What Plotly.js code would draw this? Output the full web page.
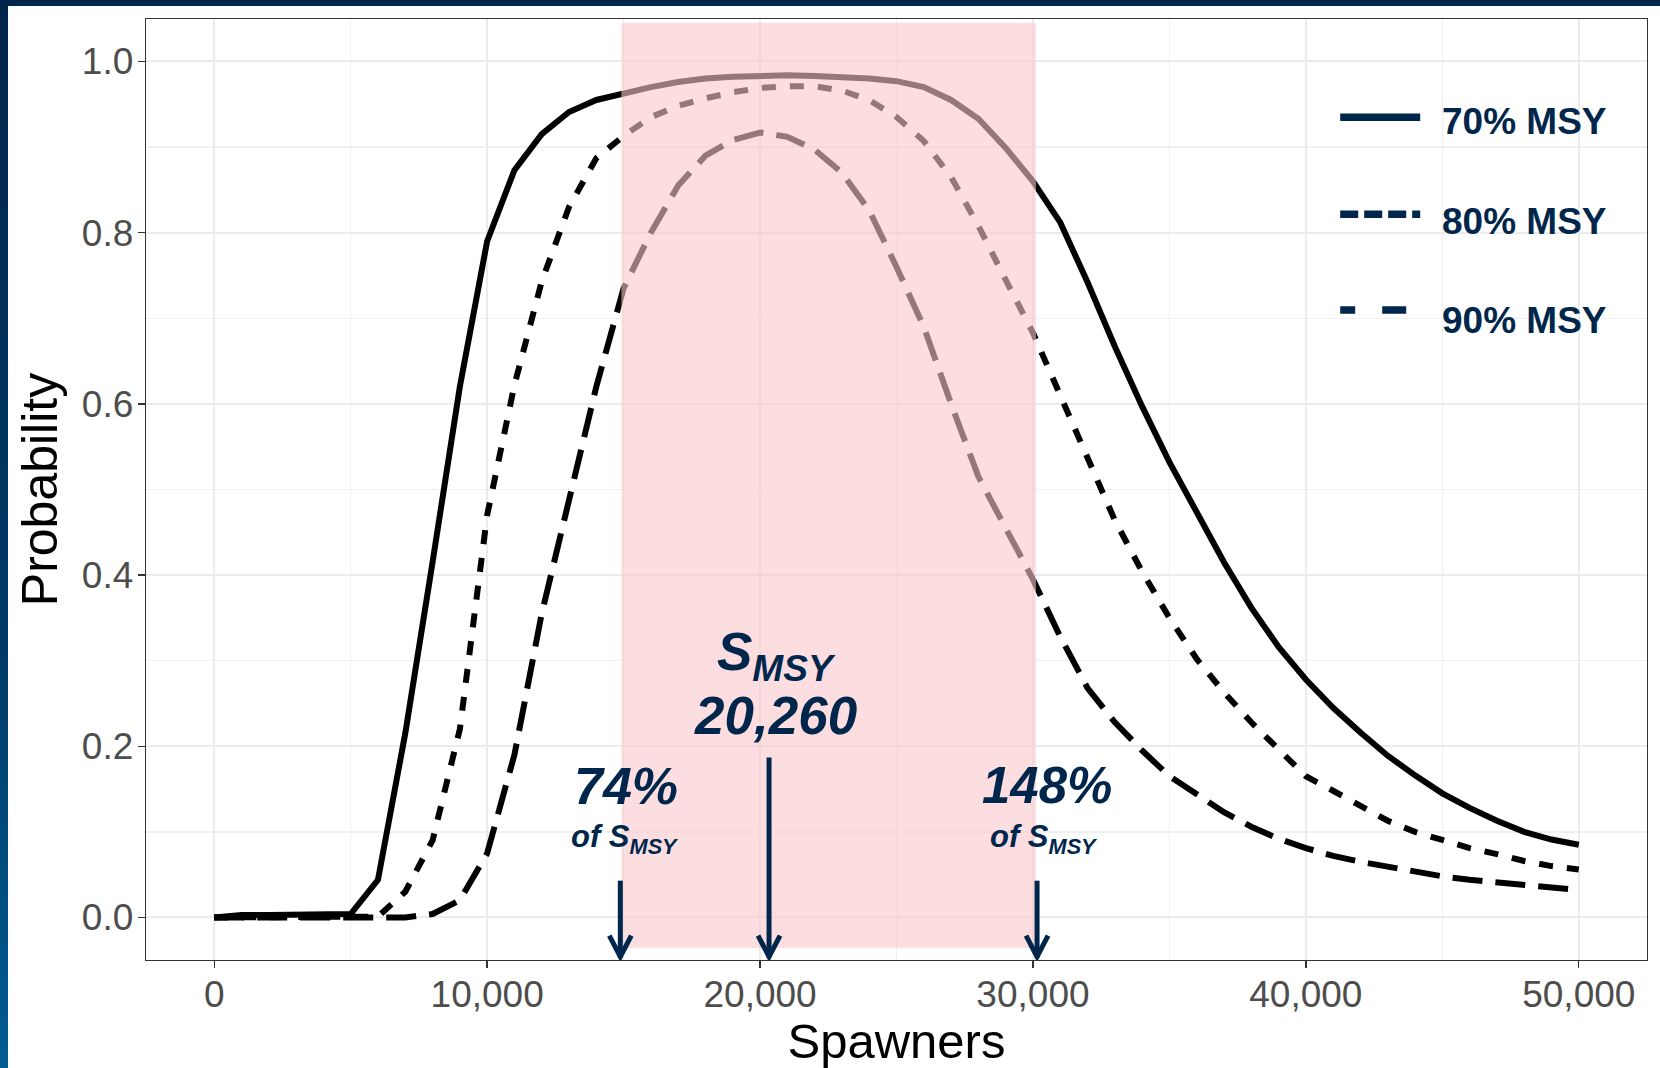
<!DOCTYPE html>
<html>
<head>
<meta charset="utf-8">
<script src="https://cdn.plot.ly/plotly-3.0.1.min.js"></script>
<style>
  html, body { margin: 0; padding: 0; background: #ffffff; }
  #chart { position: absolute; left: 0; top: 0; width: 1660px; height: 1068px; }
  #topbar { position: absolute; left: 0; top: 0; width: 1660px; height: 6px; background: #00264b; z-index: 5; }
  #leftbar { position: absolute; left: 0; top: 0; width: 8px; height: 1068px; z-index: 5;
             background: linear-gradient(to bottom, #00264b 0%, #003a66 60%, #005c92 100%); }
</style>
</head>
<body>
<div id="chart"></div>
<div id="topbar"></div>
<div id="leftbar"></div>
<script>
// ---- data ----
const spawners = [0,1000,2000,3000,4000,5000,6000,7000,8000,9000,
  10000,11000,12000,13000,14000,15000,16000,17000,18000,19000,
  20000,21000,22000,23000,24000,25000,26000,27000,28000,29000,
  30000,31000,32000,33000,34000,35000,36000,37000,38000,39000,
  40000,41000,42000,43000,44000,45000,46000,47000,48000,49000,50000];

const prob70 = [0.000,0.003,0.003,0.003,0.003,0.004,0.044,0.215,0.415,0.620,
  0.790,0.873,0.915,0.941,0.955,0.963,0.970,0.976,0.980,0.982,
  0.983,0.984,0.983,0.982,0.980,0.977,0.970,0.955,0.933,0.899,
  0.860,0.812,0.742,0.667,0.597,0.532,0.472,0.415,0.362,0.316,
  0.278,0.245,0.216,0.189,0.166,0.145,0.128,0.113,0.100,0.091,0.085];

const prob80 = [0.000,0.000,0.000,0.000,0.000,0.000,0.001,0.030,0.090,0.220,
  0.470,0.622,0.743,0.830,0.887,0.913,0.935,0.948,0.957,0.964,
  0.969,0.971,0.971,0.966,0.955,0.935,0.907,0.865,0.808,0.745,
  0.683,0.610,0.535,0.464,0.404,0.350,0.302,0.263,0.228,0.196,
  0.165,0.148,0.130,0.113,0.100,0.090,0.081,0.074,0.066,0.060,0.056];

const prob90 = [0.000,0.000,0.000,0.000,0.000,0.000,0.000,0.000,0.004,0.020,
  0.075,0.190,0.355,0.490,0.620,0.735,0.800,0.855,0.890,0.908,
  0.917,0.912,0.897,0.870,0.826,0.760,0.690,0.600,0.515,0.455,
  0.395,0.328,0.268,0.228,0.195,0.165,0.143,0.123,0.106,0.092,
  0.081,0.072,0.065,0.059,0.054,0.048,0.044,0.041,0.038,0.034,0.032];

const seriesNames = ["70% MSY", "80% MSY", "90% MSY"];

// S_MSY reference range (74% .. 148% of S_MSY) and arrow positions
const smsyLabel = "20,260";
const rangeLow = 14920;
const rangeHigh = 30110;
const arrowX = [14880, 20330, 30150];
const arrowTop = [0.043, 0.187, 0.043];
const arrowTip = -0.047;

const xTickVals = [0, 10000, 20000, 30000, 40000, 50000];
const xTickText = ["0", "10,000", "20,000", "30,000", "40,000", "50,000"];
const yTickVals = [0, 0.2, 0.4, 0.6, 0.8, 1.0];
const yTickText = ["0.0", "0.2", "0.4", "0.6", "0.8", "1.0"];

// ---- styling ----
const NAVY = "#00264b";
const FONT = "Liberation Sans, Arial, sans-serif";

const dashes = ["solid", "14px,14px", "30px,13px"];
const ys = [prob70, prob80, prob90];

const traces = ys.map((y, i) => ({
  type: "scatter", mode: "lines", x: spawners, y: y, name: seriesNames[i],
  showlegend: false, hoverinfo: "x+y",
  line: { color: "#000000", width: 6, dash: dashes[i] }
}));

const shapes = [];
// pink band (drawn above the lines, semi-transparent)
shapes.push({ type: "rect", xref: "x", yref: "y", x0: rangeLow, x1: rangeHigh, y0: -0.036, y1: 1.045,
  fillcolor: "rgb(250,200,205)", opacity: 0.6, line: { width: 0 }, layer: "above" });

// arrows
arrowX.forEach((ax, i) => {
  shapes.push({ type: "line", xref: "x", yref: "y", x0: ax, x1: ax, y0: arrowTop[i], y1: arrowTip,
    line: { color: NAVY, width: 5 }, layer: "above" });
  shapes.push({ type: "path", xref: "x", yref: "y", xsizemode: "pixel", ysizemode: "pixel",
    xanchor: ax, yanchor: arrowTip, path: "M-11,22 L0,1 L11,22",
    line: { color: NAVY, width: 5 }, layer: "above" });
});

// custom legend (lines + labels) in paper coordinates
const legY = [0.8955, 0.7924, 0.6908];
const legTextY = [0.8916, 0.7846, 0.6796];
const legDash = ["solid", "18px,6px", "15px,27px,24px"];
const legX1 = [0.8489, 0.8489, 0.8396];
legY.forEach((ly, i) => {
  shapes.push({ type: "line", xref: "paper", yref: "paper", x0: 0.7956, x1: legX1[i], y0: ly, y1: ly,
    line: { color: NAVY, width: 7.5, dash: legDash[i] }, layer: "above" });
});

const annFont = (size) => ({ family: FONT, size: size, color: NAVY, weight: "bold", style: "italic" });

const annotations = [
  { x: 15103, y: 0.1537, xref: "x", yref: "y", text: "74%", showarrow: false,
    xanchor: "center", yanchor: "middle", font: annFont(52) },
  { x: 15050, y: 0.0917, xref: "x", yref: "y", text: "of S<sub>MSY</sub>", showarrow: false,
    xanchor: "center", yanchor: "middle", font: annFont(31) },
  { x: 20600, y: 0.306, xref: "x", yref: "y", text: "S<sub>MSY</sub>", showarrow: false,
    xanchor: "center", yanchor: "middle", font: annFont(53) },
  { x: 20550, y: 0.2355, xref: "x", yref: "y", text: smsyLabel, showarrow: false,
    xanchor: "center", yanchor: "middle", font: annFont(53) },
  { x: 30500, y: 0.1537, xref: "x", yref: "y", text: "148%", showarrow: false,
    xanchor: "center", yanchor: "middle", font: annFont(51) },
  { x: 30400, y: 0.0917, xref: "x", yref: "y", text: "of S<sub>MSY</sub>", showarrow: false,
    xanchor: "center", yanchor: "middle", font: annFont(31) }
];
seriesNames.forEach((nm, i) => {
  annotations.push({ x: 0.8620, y: legTextY[i], xref: "paper", yref: "paper", text: nm, showarrow: false,
    xanchor: "left", yanchor: "middle",
    font: { family: FONT, size: 37, color: NAVY, weight: "bold" } });
});

const layout = {
  width: 1660, height: 1068,
  margin: { l: 146, r: 13, t: 19, b: 108, pad: 0 },
  paper_bgcolor: "#ffffff", plot_bgcolor: "#ffffff",
  showlegend: false,
  font: { family: FONT, color: "#4d4d4d" },
  xaxis: {
    range: [-2500, 52500], tickmode: "array", tickvals: xTickVals, ticktext: xTickText,
    showgrid: true, gridcolor: "#ebebeb", gridwidth: 2,
    minor: { dtick: 5000, tick0: 0, showgrid: true, gridcolor: "#f0f0f0", gridwidth: 1.5 },
    zeroline: false, showline: true, linecolor: "#333333", linewidth: 1.3, mirror: true,
    ticks: "outside", ticklen: 7, tickwidth: 1.3, tickcolor: "#333333",
    ticklabelstandoff: -6, automargin: true,
    tickfont: { family: FONT, size: 37, color: "#4d4d4d" },
    title: { text: "Spawners", font: { family: FONT, size: 49, color: "#000000" }, standoff: 3 }
  },
  yaxis: {
    range: [-0.0497, 1.0496], tickmode: "array", tickvals: yTickVals, ticktext: yTickText,
    showgrid: true, gridcolor: "#ebebeb", gridwidth: 2,
    minor: { dtick: 0.1, tick0: 0, showgrid: true, gridcolor: "#f0f0f0", gridwidth: 1.5 },
    zeroline: false, showline: true, linecolor: "#333333", linewidth: 1.3, mirror: true,
    ticks: "outside", ticklen: 7, tickwidth: 1.3, tickcolor: "#333333",
    ticklabelstandoff: -3, automargin: true,
    tickfont: { family: FONT, size: 37, color: "#4d4d4d" },
    title: { text: "Probability", font: { family: FONT, size: 50, color: "#000000" }, standoff: 8 }
  },
  shapes: shapes,
  annotations: annotations
};

Plotly.newPlot("chart", traces, layout, { displayModeBar: false, staticPlot: true });
</script>
</body>
</html>
